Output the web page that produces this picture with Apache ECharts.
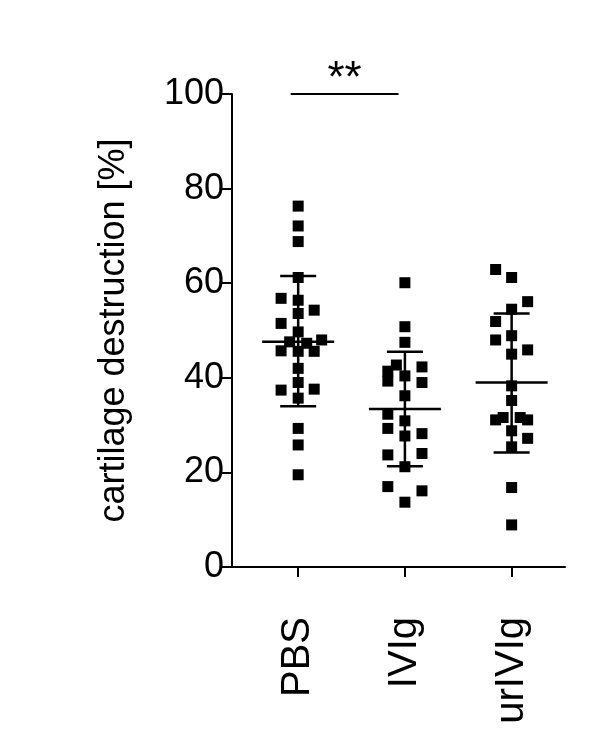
<!DOCTYPE html>
<html><head><meta charset="utf-8">
<script src="https://cdn.jsdelivr.net/npm/echarts@6/dist/echarts.min.js"></script>
<style>html,body{margin:0;background:#fff}#c{width:591px;height:747px}</style>
</head><body><div id="c"></div>
<script>
// 分组与数据
const groups = ['PBS', 'IVIg', 'urIVIg'];
const pbsVals = [76.3, 72.1, 68.8, 61.2, 56.8, 56.4, 54.3, 53.6, 51.5, 49.7, 48.0, 47.6, 47.3, 45.7, 45.6, 45.6, 42.0, 39.0, 37.4, 37.6, 35.7, 29.3, 25.8, 19.5];
const pbsJitter = [0, 0, 0, 0, -0.16, 0, 0.15, 0, -0.16, 0, 0.22, -0.08, 0.08, -0.16, 0, 0.15, 0, 0, -0.16, 0.15, 0, 0, 0, 0];
const ivigVals = [60.1, 50.8, 47.5, 42.7, 42.3, 41.4, 40.4, 39.3, 39.0, 36.2, 32.3, 30.9, 29.3, 28.2, 27.7, 23.7, 24.0, 21.2, 17.0, 16.1, 13.7];
const ivigJitter = [0, 0, 0, -0.08, 0.16, -0.16, 0, -0.16, 0.16, 0, -0.16, 0, -0.16, 0.16, 0, -0.16, 0.16, 0, -0.16, 0.16, 0];
const urivigVals = [62.9, 61.2, 56.1, 54.5, 51.9, 48.9, 48.0, 45.9, 45.0, 38.3, 35.2, 31.1, 31.6, 31.6, 31.1, 28.8, 27.2, 25.4, 16.8, 8.9];
const urivigJitter = [-0.15, 0, 0.15, 0, -0.15, 0, -0.15, 0.15, 0, 0, 0, -0.15, -0.08, 0.08, 0.15, 0, 0.15, 0, 0, 0];
// 均值与标准差上下限
const means = [47.6, 33.4, 39.0];
const sdHigh = [61.5, 45.5, 53.6];
const sdLow = [34.0, 21.3, 24.2];

const font = 'Liberation Sans, Arial, sans-serif';
const chart = echarts.init(document.getElementById('c'));

function pts(vals, jit, g) {
    return vals.map((v, i) => [g + jit[i], v]);
}

const pointSeries = [[pbsVals, pbsJitter], [ivigVals, ivigJitter], [urivigVals, urivigJitter]].map((d, i) => ({
    type: 'scatter',
    symbol: 'rect',
    symbolSize: 11,
    itemStyle: { color: '#000', opacity: 1 },
    data: pts(d[0], d[1], i + 1),
    z: 3
}));

const errData = groups.map((g, i) => [i + 1, means[i], sdLow[i], sdHigh[i]]);

chart.setOption({
    animation: false,
    grid: { left: 232, right: 26, top: 94, bottom: 180 },
    xAxis: {
        type: 'value', min: 0.38, max: 3.5,
        splitLine: { show: false },
        axisLine: { lineStyle: { color: '#000', width: 2 } },
        axisTick: { show: true, length: 10, lineStyle: { width: 2, color: '#000' }, customValues: [1, 2, 3] },
        axisLabel: {
            customValues: [1, 2, 3], rotate: 90, margin: 50,
            fontSize: 40, color: '#000', fontFamily: font,
            formatter: v => groups[Math.round(v) - 1] || ''
        }
    },
    yAxis: {
        type: 'value', min: 0, max: 100, interval: 20,
        name: 'cartilage destruction [%]', nameLocation: 'middle', nameGap: 100,
        nameTextStyle: { fontSize: 36, color: '#000', fontFamily: font },
        splitLine: { show: false },
        axisLine: { show: true, lineStyle: { color: '#000', width: 2 } },
        axisTick: { show: true, length: 12, lineStyle: { width: 2, color: '#000' } },
        axisLabel: { fontSize: 36, color: '#000', fontFamily: font, margin: 8 }
    },
    series: pointSeries.concat([
        {
            type: 'custom',
            z: 4,
            data: errData,
            renderItem(params, api) {
                const x = api.value(0);
                const m = api.coord([x, api.value(1)]);
                const lo = api.coord([x, api.value(2)]);
                const hi = api.coord([x, api.value(3)]);
                const st = { stroke: '#000', lineWidth: 2.5 };
                return {
                    type: 'group', children: [
                        { type: 'line', shape: { x1: m[0] - 36, y1: m[1], x2: m[0] + 36, y2: m[1] }, style: st },
                        { type: 'line', shape: { x1: lo[0], y1: lo[1], x2: hi[0], y2: hi[1] }, style: st },
                        { type: 'line', shape: { x1: lo[0] - 18, y1: lo[1], x2: lo[0] + 18, y2: lo[1] }, style: st },
                        { type: 'line', shape: { x1: hi[0] - 18, y1: hi[1], x2: hi[0] + 18, y2: hi[1] }, style: st }
                    ]
                };
            }
        },
        {
            // 显著性标记
            type: 'custom',
            data: [[0.93, 1.94, 100]],
            renderItem(params, api) {
                const a = api.coord([api.value(0), api.value(2)]);
                const b = api.coord([api.value(1), api.value(2)]);
                return {
                    type: 'group', children: [
                        { type: 'line', shape: { x1: a[0], y1: a[1], x2: b[0], y2: b[1] }, style: { stroke: '#000', lineWidth: 2 } },
                        { type: 'text', style: { text: '**', x: (a[0] + b[0]) / 2, y: a[1] + 8, align: 'center', verticalAlign: 'bottom', fontSize: 44, fontFamily: font, fill: '#000' } }
                    ]
                };
            }
        }
    ])
});
</script>
</body></html>
